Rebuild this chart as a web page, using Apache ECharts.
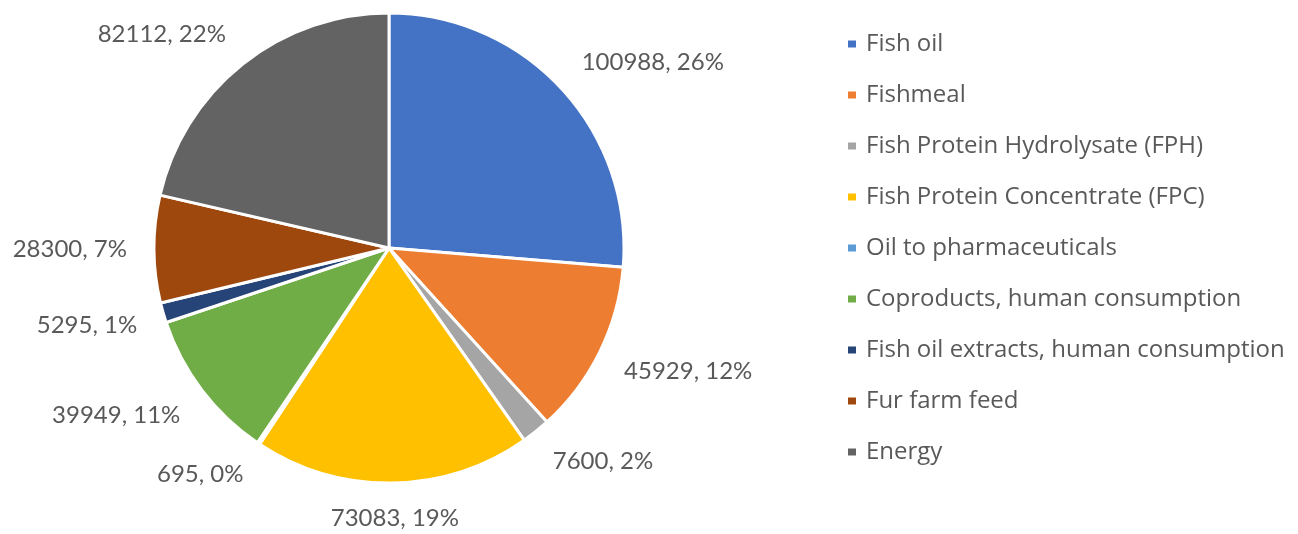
<!DOCTYPE html>
<html>
<head>
<meta charset="utf-8">
<title>Fish by-product use</title>
<script src="https://cdn.jsdelivr.net/npm/echarts@6/dist/echarts.min.js"></script>
<style>
  html, body { margin: 0; padding: 0; background: #ffffff; }
  #chart { width: 1298px; height: 534px; }
</style>
</head>
<body>
<div id="chart"></div>
<script>
// Categories and tonnage of each use
const categories = [
  'Fish oil',
  'Fishmeal',
  'Fish Protein Hydrolysate (FPH)',
  'Fish Protein Concentrate (FPC)',
  'Oil to pharmaceuticals',
  'Coproducts, human consumption',
  'Fish oil extracts, human consumption',
  'Fur farm feed',
  'Energy'
];
const values = [100988, 45929, 7600, 73083, 695, 39949, 5295, 28300, 82112];
const colors = ['#4472C4', '#ED7D31', '#A5A5A5', '#FFC000', '#5B9BD5', '#70AD47', '#264478', '#9E480E', '#636363'];

// Pie geometry (pixels)
const CX = 389, CY = 248, R = 235, LABEL_GAP = 27;

const chart = echarts.init(document.getElementById('chart'), null, { renderer: 'canvas' });

const total = values.reduce((a, b) => a + b, 0);
// mid-angle direction of slice i, clockwise from 12 o'clock
function sliceDir(i) {
  let before = 0;
  for (let k = 0; k < i; k++) before += values[k];
  const mid = (before + values[i] / 2) / total * Math.PI * 2;
  return [Math.sin(mid), -Math.cos(mid)];
}
const clamp = v => Math.max(-1, Math.min(1, v));

chart.setOption({
  animation: false,
  color: colors,
  legend: {
    orient: 'vertical',
    left: 841,
    top: 27,
    itemWidth: 10,
    itemHeight: 9,
    itemGap: 27,
    icon: 'rect',
    selectedMode: false,
    textStyle: {
      fontFamily: 'Open Sans',
      fontSize: 24,
      color: '#595959',
      padding: [0, 0, 0, 4]
    },
    data: categories
  },
  series: [{
    type: 'pie',
    center: [CX, CY],
    radius: R,
    startAngle: 90,
    clockwise: true,
    avoidLabelOverlap: false,
    percentPrecision: 0,
    itemStyle: { borderColor: '#ffffff', borderWidth: 3 },
    label: {
      show: true,
      position: 'outside',
      formatter: '{c}, {d}%',
      fontFamily: 'Lato',
      fontSize: 24,
      color: '#595959'
    },
    labelLine: { show: false },
    // each label box sits just outside the rim, its nearest side or corner on the slice's mid-angle ray
    labelLayout: function (p) {
      const [dx, dy] = sliceDir(p.dataIndex);
      const d = R + LABEL_GAP;
      const w = p.labelRect.width, h = p.labelRect.height;
      return {
        x: CX + d * dx + clamp(dx * 2) * w / 2,
        y: CY + d * dy + clamp(dy * 2) * h * 0.36,
        align: 'center',
        verticalAlign: 'middle'
      };
    },
    emphasis: { disabled: true },
    data: categories.map((name, i) => ({ name: name, value: values[i] }))
  }]
});
</script>
</body>
</html>
